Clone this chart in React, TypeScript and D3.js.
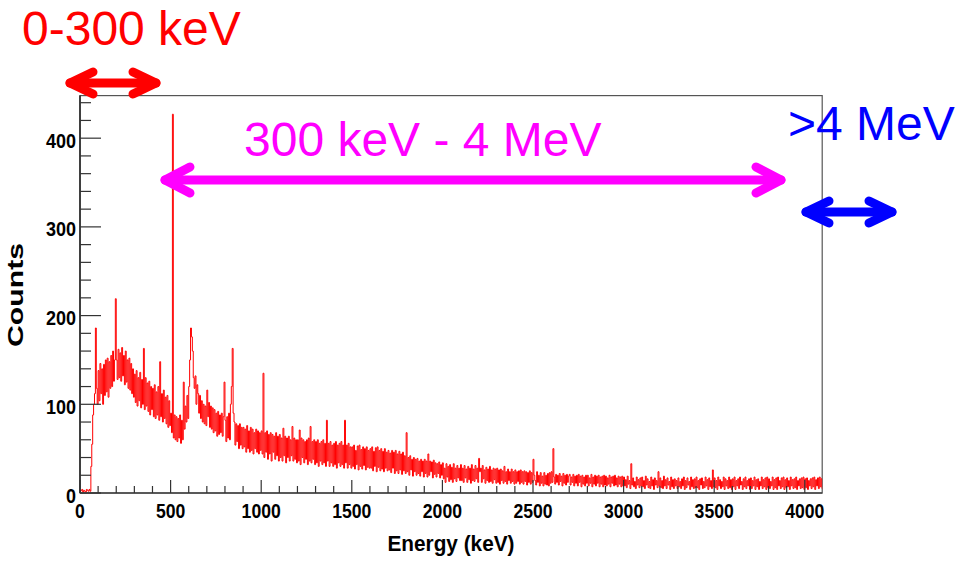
import React from 'react';
import * as d3 from 'd3';

// spectrum, 5 keV bins starting at 0 keV, one row per 100 keV
const binWidth = 5;
const counts = [
  2, 3, 4, 1, 3, 2, 1, 4, 3, 2, 4, 2, 30, 55, 88, 100, 112, 186, 118, 100, // 0
  138, 104, 146, 112, 140, 100, 145, 110, 150, 114, 152, 108, 148, 118, 155, 120, 160, 126, 150, 219, // 100
  150, 128, 162, 130, 158, 126, 164, 132, 155, 122, 160, 125, 150, 118, 152, 116, 146, 112, 140, 108, // 200
  134, 102, 138, 98, 130, 104, 136, 96, 128, 100, 163, 94, 130, 98, 124, 92, 126, 88, 120, 94, // 300
  118, 86, 122, 84, 114, 88, 120, 82, 148, 86, 112, 80, 116, 84, 108, 78, 110, 74, 104, 76, // 400
  90, 68, 427, 62, 88, 60, 86, 58, 84, 62, 88, 56, 82, 60, 125, 72, 98, 80, 110, 84, // 500
  120, 150, 186, 176, 160, 130, 118, 132, 100, 122, 112, 90, 110, 84, 104, 80, 100, 78, 98, 76, // 600
  116, 86, 102, 74, 98, 72, 96, 68, 94, 70, 90, 64, 92, 66, 88, 68, 90, 64, 86, 125, // 700
  82, 58, 86, 62, 90, 60, 100, 120, 163, 90, 80, 54, 78, 58, 76, 50, 78, 54, 74, 50, // 800
  74, 52, 72, 46, 76, 50, 70, 46, 74, 48, 72, 44, 68, 50, 72, 46, 70, 44, 68, 48, // 900
  70, 44, 135, 40, 68, 46, 70, 38, 66, 44, 68, 36, 66, 46, 64, 38, 68, 42, 64, 36, // 1000
  66, 40, 62, 36, 73, 42, 64, 34, 62, 40, 64, 36, 60, 42, 75, 36, 62, 38, 60, 34, // 1100
  60, 36, 71, 32, 62, 40, 60, 34, 58, 38, 60, 32, 62, 36, 75, 34, 58, 38, 60, 32, // 1200
  58, 34, 60, 30, 56, 36, 58, 32, 60, 34, 56, 30, 82, 36, 56, 30, 58, 34, 54, 30, // 1300
  56, 32, 58, 28, 54, 34, 56, 30, 58, 32, 54, 28, 82, 34, 54, 28, 56, 32, 52, 28, // 1400
  52, 30, 54, 27, 48, 32, 53, 26, 54, 30, 49, 27, 52, 31, 50, 26, 52, 29, 48, 28, // 1500
  50, 28, 52, 25, 47, 30, 51, 24, 52, 29, 48, 25, 50, 27, 47, 24, 50, 28, 46, 25, // 1600
  48, 26, 45, 23, 48, 28, 46, 22, 48, 25, 44, 22, 47, 26, 44, 21, 46, 25, 42, 22, // 1700
  68, 24, 40, 20, 42, 26, 38, 19, 40, 24, 38, 20, 39, 22, 36, 19, 38, 24, 36, 18, // 1800
  38, 22, 36, 18, 44, 20, 36, 24, 35, 17, 37, 21, 34, 18, 33, 22, 35, 17, 32, 20, // 1900
  34, 16, 28, 12, 33, 18, 30, 13, 32, 15, 29, 12, 33, 16, 28, 13, 31, 17, 28, 14, // 2000
  32, 14, 28, 12, 31, 17, 27, 12, 30, 15, 28, 11, 32, 14, 27, 13, 31, 16, 28, 12, // 2100
  39, 24, 28, 12, 31, 16, 26, 11, 29, 14, 27, 12, 30, 13, 26, 11, 28, 15, 27, 11, // 2200
  28, 12, 26, 10, 27, 14, 25, 11, 30, 13, 24, 10, 27, 14, 24, 11, 27, 13, 24, 10, // 2300
  26, 11, 24, 13, 25, 10, 26, 12, 24, 10, 25, 13, 24, 9, 23, 12, 25, 10, 23, 12, // 2400
  38, 20, 14, 9, 24, 12, 20, 8, 23, 11, 19, 8, 23, 10, 20, 9, 22, 8, 23, 11, // 2500
  24, 12, 50, 18, 10, 21, 12, 20, 9, 22, 13, 19, 8, 22, 11, 20, 9, 21, 12, 19, // 2600
  21, 9, 18, 12, 21, 8, 19, 11, 20, 8, 21, 12, 19, 7, 20, 10, 18, 8, 20, 11, // 2700
  20, 8, 17, 11, 21, 7, 18, 10, 20, 8, 19, 11, 20, 7, 18, 10, 19, 7, 20, 9, // 2800
  19, 8, 17, 10, 20, 7, 18, 11, 19, 8, 20, 9, 17, 7, 19, 10, 18, 7, 19, 8, // 2900
  18, 8, 15, 6, 19, 10, 14, 5, 33, 9, 17, 7, 13, 5, 18, 9, 15, 6, 17, 8, // 3000
  18, 7, 14, 5, 19, 9, 16, 6, 13, 5, 18, 8, 15, 4, 17, 9, 14, 6, 24, 8, // 3100
  17, 6, 14, 5, 19, 8, 15, 5, 17, 9, 13, 4, 18, 7, 15, 5, 16, 8, 14, 5, // 3200
  17, 7, 13, 5, 16, 8, 18, 4, 14, 6, 17, 9, 13, 4, 18, 7, 15, 5, 16, 6, // 3300
  18, 6, 14, 4, 16, 9, 17, 5, 13, 6, 18, 8, 15, 4, 17, 7, 14, 5, 26, 7, // 3400
  17, 6, 14, 4, 18, 8, 15, 5, 13, 7, 18, 4, 16, 8, 14, 5, 18, 6, 15, 4, // 3500
  16, 7, 18, 4, 14, 8, 16, 5, 18, 9, 13, 4, 16, 7, 18, 5, 14, 8, 16, 4, // 3600
  17, 5, 14, 8, 18, 4, 15, 7, 16, 4, 13, 8, 18, 5, 15, 7, 17, 4, 18, 6, // 3700
  16, 5, 13, 8, 18, 4, 15, 6, 17, 4, 18, 8, 14, 5, 17, 7, 18, 4, 15, 6, // 3800
  17, 7, 14, 4, 18, 8, 15, 5, 16, 6, 18, 4, 14, 8, 16, 5, 17, 6, 18, 4, // 3900
  16, 6, 17, 4, 14, 8, 16, 5, 17, 7, 18, 4, 15, 8, 17, 5, 18, 7, 16, 5, // 4000
];

const xMajorTicks = [0, 500, 1000, 1500, 2000, 2500, 3000, 3500, 4000];
const yMajorTicks = [0, 100, 200, 300, 400];

const W = 965;
const H = 562;
const plot = { left: 80, right: 822.2, top: 95.6, bottom: 493 };
const font = '"Liberation Sans", Arial, Helvetica, sans-serif';

const App = () => {
  const x = d3.scaleLinear().domain([0, 4096]).range([plot.left, plot.right]);
  const y = d3.scaleLinear().domain([0, 448]).range([plot.bottom, plot.top]);

  const points = counts.map((c, i) => ({ e: i * binWidth, c }));
  points.push({ e: counts.length * binWidth, c: counts[counts.length - 1] });

  const line = d3
    .line<{ e: number; c: number }>()
    .x((d) => x(d.e))
    .y((d) => y(d.c))
    .curve(d3.curveStepAfter);

  const xMinor = d3.range(0, 4096, 100).filter((v) => v % 500 !== 0);
  const yMinor = d3.range(0, 448, 20).filter((v) => v % 100 !== 0);

  // double headed arrow
  const arrow = (x1: number, x2: number, yy: number, hw: number, hh: number, color: string) => (
    <g stroke={color} strokeWidth={9} fill="none" strokeLinecap="round" strokeLinejoin="round">
      <path d={`M${x1},${yy}H${x2}`} />
      <path d={`M${x1 + hw},${yy - hh}L${x1},${yy}L${x1 + hw},${yy + hh}`} />
      <path d={`M${x2 - hw},${yy - hh}L${x2},${yy}L${x2 - hw},${yy + hh}`} />
    </g>
  );

  return (
    <svg width={W} height={H} style={{ position: 'absolute', left: 0, top: 0, background: '#fff' }}>
      <defs>
        <clipPath id="plotClip">
          <rect x={plot.left} y={plot.top} width={plot.right - plot.left} height={plot.bottom - plot.top} />
        </clipPath>
      </defs>

      {/* frame */}
      <rect
        x={plot.left}
        y={plot.top}
        width={plot.right - plot.left}
        height={plot.bottom - plot.top}
        fill="none"
        stroke="#555"
        strokeWidth={1.2}
      />

      {/* spectrum */}
      <path d={line(points) || ''} fill="none" stroke="#ff0000" strokeWidth={1} clipPath="url(#plotClip)" />

      {/* axes lines */}
      <line x1={plot.left} x2={plot.left} y1={plot.top} y2={plot.bottom} stroke="#222" strokeWidth={1.5} />
      <line x1={plot.left} x2={plot.right} y1={plot.bottom} y2={plot.bottom} stroke="#444" strokeWidth={1.5} />

      {/* x ticks */}
      {xMajorTicks.map((t) => (
        <line key={'xm' + t} x1={x(t)} x2={x(t)} y1={plot.bottom} y2={plot.bottom - 13} stroke="#333" strokeWidth={1.2} />
      ))}
      {xMinor.map((t) => (
        <line key={'xn' + t} x1={x(t)} x2={x(t)} y1={plot.bottom} y2={plot.bottom - 7} stroke="#333" strokeWidth={1.2} />
      ))}
      {xMajorTicks.map((t) => (
        <text
          key={'xl' + t}
          x={x(t)}
          y={518}
          textAnchor="middle"
          fontFamily={font}
          fontWeight="bold"
          fontSize={21}
          textLength={String(t).length * 9.8}
          lengthAdjust="spacingAndGlyphs"
        >
          {t}
        </text>
      ))}

      {/* y ticks */}
      {yMajorTicks.map((t) => (
        <line key={'ym' + t} x1={plot.left} x2={plot.left + 21} y1={y(t)} y2={y(t)} stroke="#333" strokeWidth={1.2} />
      ))}
      {yMinor.map((t) => (
        <line key={'yn' + t} x1={plot.left} x2={plot.left + 11} y1={y(t)} y2={y(t)} stroke="#333" strokeWidth={1.2} />
      ))}
      {yMajorTicks.map((t) => (
        <text
          key={'yl' + t}
          x={76}
          y={y(t) + 9.5}
          textAnchor="end"
          fontFamily={font}
          fontWeight="bold"
          fontSize={21}
          textLength={String(t).length * 10}
          lengthAdjust="spacingAndGlyphs"
        >
          {t}
        </text>
      ))}

      {/* axis titles */}
      <text
        x={451}
        y={551}
        textAnchor="middle"
        fontFamily={font}
        fontWeight="bold"
        fontSize={22}
        textLength={127}
        lengthAdjust="spacingAndGlyphs"
      >
        Energy (keV)
      </text>
      <text
        transform="translate(23,295) rotate(-90)"
        textAnchor="middle"
        fontFamily={font}
        fontWeight="bold"
        fontSize={22}
        textLength={104}
        lengthAdjust="spacingAndGlyphs"
      >
        Counts
      </text>

      {/* range annotations */}
      <text x={22} y={45} fill="#ff0000" fontFamily={font} fontSize={48}>
        0-300 keV
      </text>
      {arrow(70, 156, 83, 23, 11, '#ff0000')}

      <text x={244} y={156} fill="#ff00ff" fontFamily={font} fontSize={48}>
        300 keV - 4 MeV
      </text>
      {arrow(165, 781, 180, 25, 13, '#ff00ff')}

      <text x={788} y={140} fill="#0000ff" fontFamily={font} fontSize={48}>
        {'>4 MeV'}
      </text>
      {arrow(806, 892, 212, 23, 11, '#0000ff')}
    </svg>
  );
};

export default App;
